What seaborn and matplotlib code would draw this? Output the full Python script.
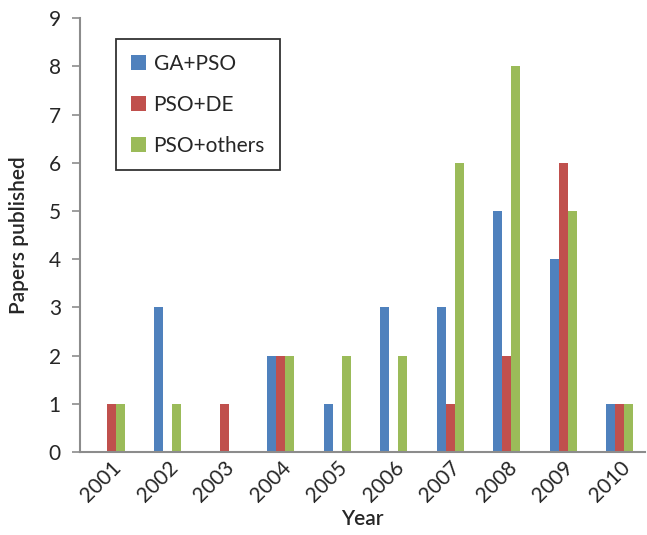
import pandas as pd
import matplotlib
matplotlib.use('Agg')
import matplotlib.pyplot as plt
import seaborn as sns

# Values
years = ['2001', '2002', '2003', '2004', '2005', '2006', '2007', '2008', '2009', '2010']
ga_pso = [0, 3, 0, 2, 1, 3, 3, 5, 4, 1]
pso_de = [1, 0, 1, 2, 0, 0, 1, 2, 6, 1]
pso_others = [1, 1, 0, 2, 2, 2, 6, 8, 5, 1]
series = ['GA+PSO', 'PSO+DE', 'PSO+others']
colors = ['#4F81BD', '#C0504D', '#9BBB59']

# Long format table for seaborn
df = pd.DataFrame({'Year': years * 3,
                   'Papers': ga_pso + pso_de + pso_others,
                   'Series': [s for s in series for _ in years]})

sns.set_style('white')
plt.rcParams['font.family'] = ['Lato', 'DejaVu Sans']

fig = plt.figure(figsize=(6.47, 5.35), dpi=100)
ax = fig.add_axes([0.124, 0.155, 0.873, 0.811])

sns.barplot(data=df, x='Year', y='Papers', hue='Series', palette=colors,
            width=0.48, saturation=1, linewidth=0, ax=ax, legend=True)

ax.set_ylim(0, 9)
ax.set_yticks(range(0, 10))
ax.set_xlim(-0.55, 9.45)

for side in ['top', 'right']:
    ax.spines[side].set_visible(False)
for side in ['left', 'bottom']:
    ax.spines[side].set_color('#8C8C8C')
    ax.spines[side].set_linewidth(1.5)

ax.tick_params(axis='y', length=6, width=1.2, color='#8C8C8C', labelsize=15,
               direction='out', left=True, pad=8)
ax.tick_params(axis='x', length=0, labelsize=15, pad=4)
plt.setp(ax.get_xticklabels(), rotation=45, ha='right', rotation_mode='anchor')

ax.set_xlabel('Year', fontsize=15, fontweight='semibold', labelpad=2)
ax.set_ylabel('Papers published', fontsize=15, fontweight='semibold', labelpad=14)

leg = ax.legend(loc='upper left', bbox_to_anchor=(0.045, 0.975), fontsize=15,
                frameon=True, fancybox=False, edgecolor='black',
                labelspacing=1.0, handlelength=0.75, handleheight=0.75,
                handletextpad=0.35, borderpad=0.7)
leg.get_frame().set_linewidth(1.3)

fig.savefig('out.png', dpi=100)
